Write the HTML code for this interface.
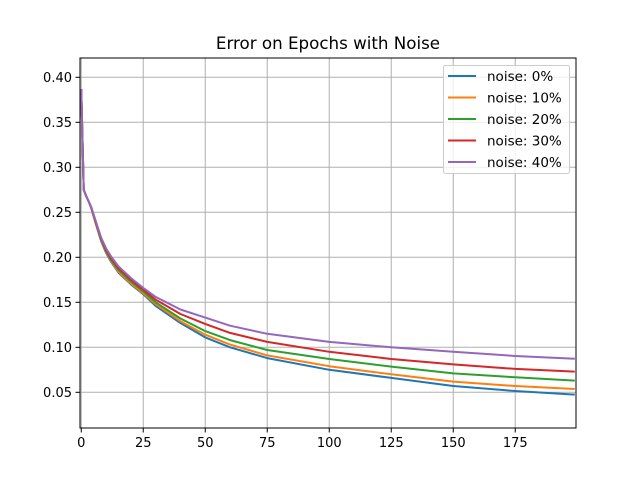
<!DOCTYPE html>
<html><head><meta charset="utf-8"><style>
body{margin:0;background:#fff;font-family:"Liberation Sans","DejaVu Sans",sans-serif}
svg text{font-family:"DejaVu Sans","Liberation Sans",sans-serif}
</style></head><body>
<svg id="chart" width="640" height="480" xmlns="http://www.w3.org/2000/svg">
<rect width="640" height="480" fill="#fff"/>
<text x="328" y="49" text-anchor="middle" font-size="16.7">Error on Epochs with Noise</text>
<g id="grid"></g><g id="series"></g><g id="axes"></g><g id="legend"></g>
</svg>
<script>
const epochs = [0,1,2,3,4,6,8,10,12,15,20,25,30,40,50,60,75,100,125,150,175,199];
const blue   = [0.387,0.275,0.268,0.262,0.255,0.236,0.218,0.205,0.195,0.183,0.170,0.159,0.146,0.127,0.111,0.100,0.088,0.075,0.066,0.057,0.0514,0.0474];
const orange = [0.387,0.275,0.268,0.262,0.255,0.236,0.219,0.206,0.196,0.184,0.171,0.160,0.148,0.129,0.114,0.103,0.091,0.079,0.070,0.0618,0.057,0.0537];
const green  = [0.387,0.275,0.268,0.262,0.255,0.237,0.220,0.207,0.197,0.186,0.173,0.162,0.150,0.132,0.118,0.108,0.097,0.087,0.0785,0.071,0.0667,0.063];
const red    = [0.387,0.275,0.268,0.262,0.256,0.238,0.221,0.208,0.199,0.188,0.175,0.164,0.153,0.137,0.126,0.116,0.106,0.095,0.087,0.081,0.076,0.073];
const purple = [0.387,0.275,0.268,0.262,0.256,0.239,0.222,0.210,0.201,0.190,0.177,0.166,0.156,0.142,0.133,0.124,0.115,0.106,0.100,0.0951,0.0904,0.0873];
const seriesNames = ["noise: 0%","noise: 10%","noise: 20%","noise: 30%","noise: 40%"];
const xTicks = [0,25,50,75,100,125,150,175];
const yTicks = [0.05,0.10,0.15,0.20,0.25,0.30,0.35,0.40];
const colors = ["#1f77b4","#ff7f0e","#2ca02c","#d62728","#9467bd"];
const allSeries = [blue,orange,green,red,purple];
const L=80,R=576,T=58,B=428;
const x = e => 81.24 + e*2.48;
const y = v => 347.3 - (v-0.10)*900;
const NS="http://www.w3.org/2000/svg";
function mk(tag,attrs,parent){const el=document.createElementNS(NS,tag);for(const k in attrs)el.setAttribute(k,attrs[k]);parent.appendChild(el);return el;}
const grid=document.getElementById('grid'),ser=document.getElementById('series'),ax=document.getElementById('axes'),lg=document.getElementById('legend');
xTicks.forEach(t=>{
 const gl=mk('line',{x1:x(t),x2:x(t),y1:T,y2:B,stroke:'#b0b0b0','stroke-width':1},grid);
 
 
 const tk=mk('line',{x1:x(t),x2:x(t),y1:B,y2:B+4.5,stroke:'#000','stroke-width':1},ax);
 
 
 const tx=mk('text',{x:x(t),y:B+19,'text-anchor':'middle','font-size':13},ax);
 tx.textContent=t;
 
 
});
yTicks.forEach(t=>{
 const gl=mk('line',{x1:L,x2:R,y1:y(t),y2:y(t),stroke:'#b0b0b0','stroke-width':1},grid);
 
 
 const tk=mk('line',{x1:L-4.5,x2:L,y1:y(t),y2:y(t),stroke:'#000','stroke-width':1},ax);
 
 
 const tx=mk('text',{x:L-8,y:y(t)+4.5,'text-anchor':'end','font-size':13},ax);
 tx.textContent=t.toFixed(2);
 
 
});
allSeries.forEach((s,i)=>{
 const p=mk('polyline',{points:s.map((v,j)=>x(epochs[j])+','+y(v)).join(' '),fill:'none',stroke:colors[i],'stroke-width':2,'stroke-linejoin':'round'},ser);
 
 
});
const frame=mk('rect',{x:L,y:T,width:R-L,height:B-T,fill:'none',stroke:'#000','stroke-width':1},ax);


const box=mk('rect',{x:443.5,y:65.5,width:126,height:108,rx:2,fill:'#fff','fill-opacity':0.8,stroke:'#ccc','stroke-width':1},lg);


seriesNames.forEach((n,i)=>{
 const yy=76+i*21.5;
 const ln=mk('line',{x1:448,x2:476,y1:yy,y2:yy,stroke:colors[i],'stroke-width':2},lg);
 
 
 const tx=mk('text',{x:487,y:yy+5,'font-size':13.5},lg);
 tx.textContent=n;
 
 
});
</script>
</body></html>
